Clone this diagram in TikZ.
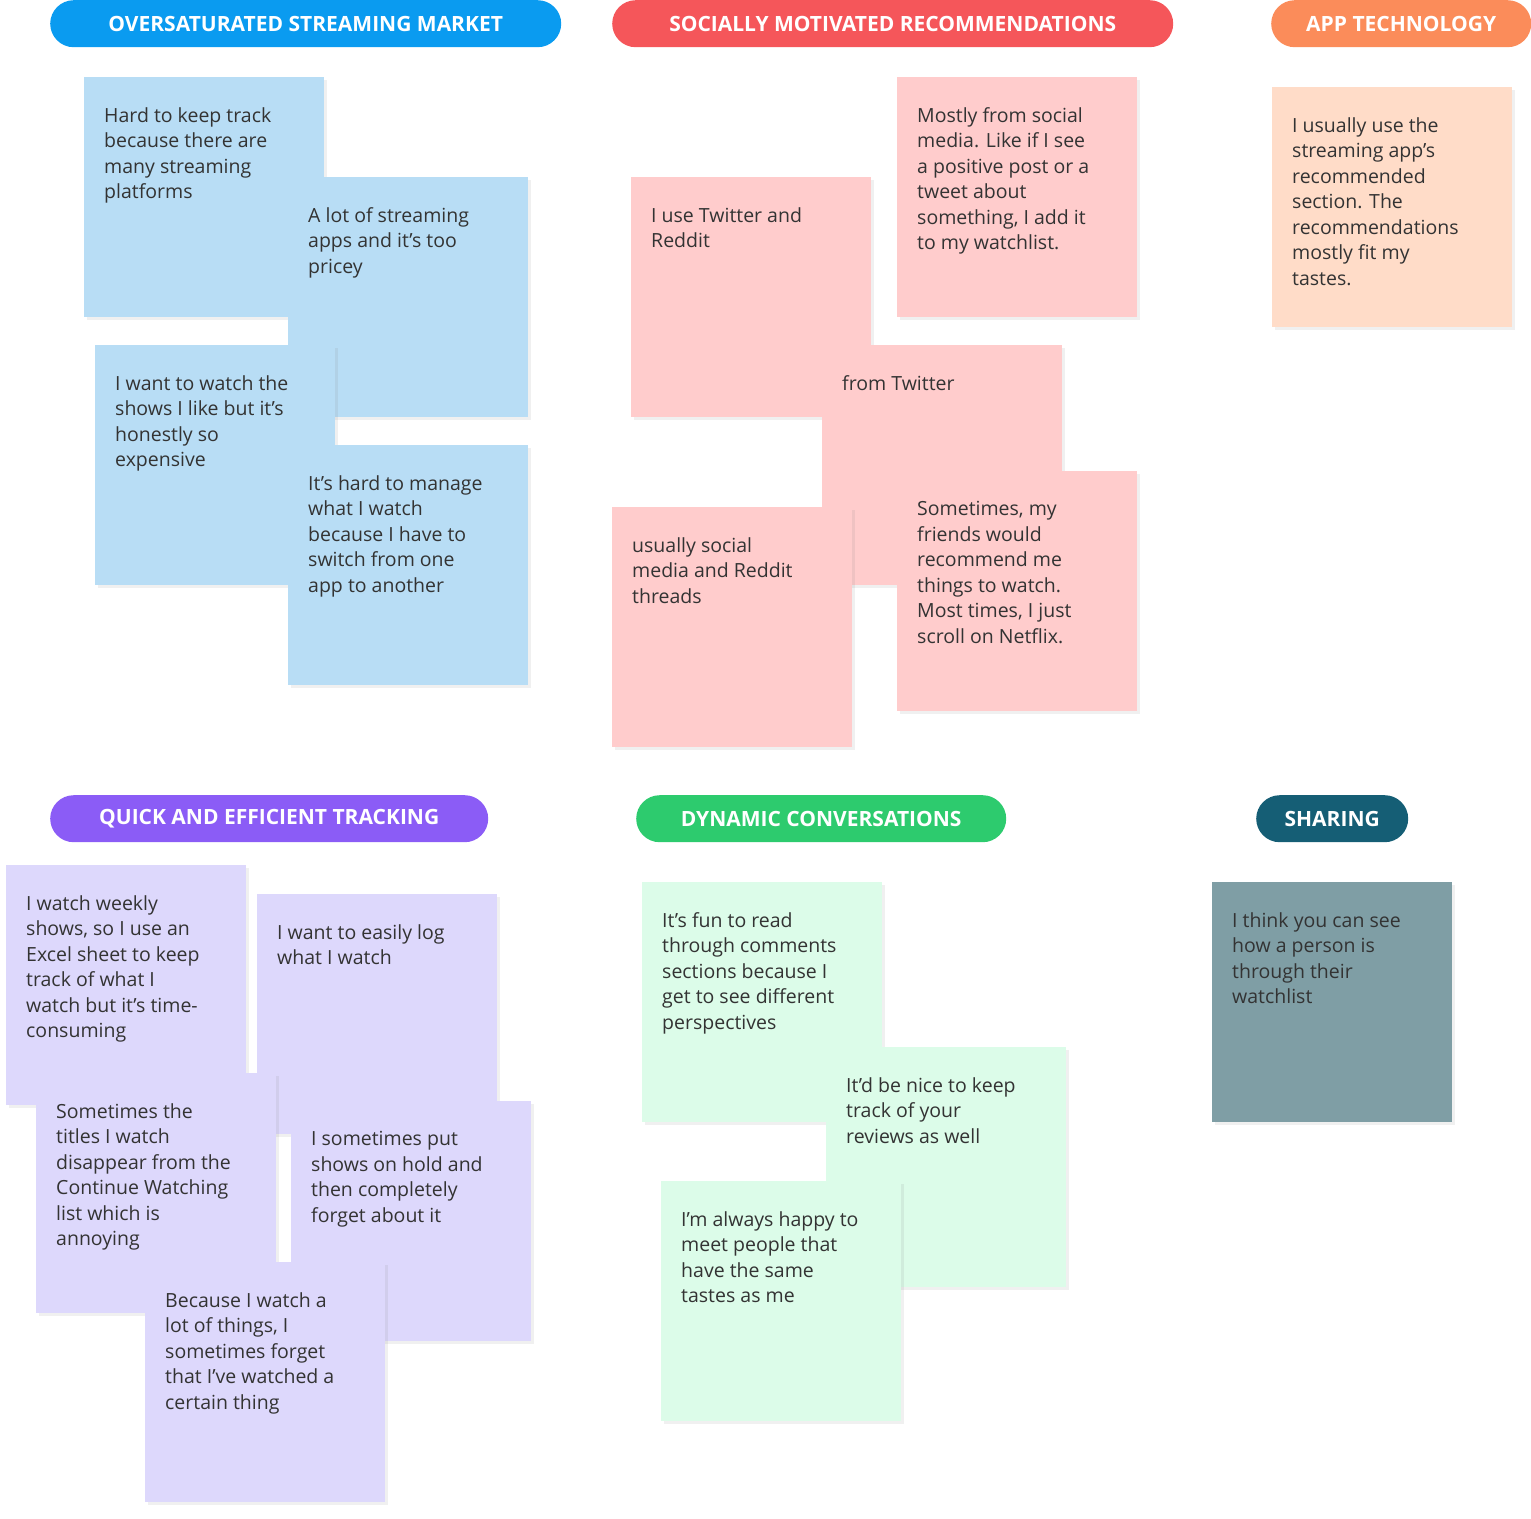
\documentclass[tikz,border=0pt]{standalone}
\usepackage{fontspec}
\setmainfont{Open Sans}
\usetikzlibrary{shadows}
\definecolor{tx}{HTML}{333333}
\definecolor{cblue}{HTML}{B8DDF5}
\definecolor{cpink}{HTML}{FFCCCC}
\definecolor{cpeach}{HTML}{FFDCC8}
\definecolor{cpurp}{HTML}{DDD8FC}
\definecolor{cgreen}{HTML}{DCFCE9}
\definecolor{cteal}{HTML}{7F9EA5}
\definecolor{hblue}{HTML}{0A9BF0}
\definecolor{hred}{HTML}{F5565A}
\definecolor{horange}{HTML}{FB8C5A}
\definecolor{hpurp}{HTML}{8B5CF6}
\definecolor{hgreen}{HTML}{2DCB6E}
\definecolor{hteal}{HTML}{155E75}
\tikzset{
 notebox/.style={draw=none,minimum width=240pt,minimum height=240pt,anchor=north west,inner sep=0pt,
   drop shadow={opacity=0.12,shadow xshift=3pt,shadow yshift=-3pt}},
 notetext/.style={anchor=north west,inner sep=0pt,align=left,text=tx,font=\fontsize{19.5}{25.5}\selectfont},
 pill/.style={rounded corners=23.5pt,minimum height=47pt,anchor=north west,inner sep=0pt,text=white,
   font=\fontsize{21}{24}\selectfont\bfseries}
}
\newcommand{\stick}[5]{%
 \node[notebox,fill=#4] (#1) at (#2,#3) {};
 \node[notetext] (#1t) at ([shift={(20pt,-30pt)}]#1.north west) {#5};}
\begin{document}
\begin{tikzpicture}[x=1pt,y=-1pt]
\useasboundingbox (0,0) rectangle (1531,1518);
% headers
\node[pill,fill=hblue,minimum width=511pt] (h1) at (50,0) {OVERSATURATED STREAMING MARKET};
\node[pill,fill=hred,minimum width=561pt] (h2) at (612,0) {SOCIALLY MOTIVATED RECOMMENDATIONS};
\node[pill,fill=horange,minimum width=260pt] (h3) at (1271,0) {APP TECHNOLOGY};
\node[pill,fill=hpurp,minimum width=438pt] (h4) at (50,795) {QUICK AND EFFICIENT TRACKING};
\node[pill,fill=hgreen,minimum width=370pt] (h5) at (636,795) {DYNAMIC CONVERSATIONS};
\node[pill,fill=hteal,minimum width=152pt] (h6) at (1256,795) {SHARING};
% blue
\stick{b1}{84}{77}{cblue}{Hard to keep track\\because there are\\many streaming\\platforms}
\stick{b2}{288}{177}{cblue}{A lot of streaming\\apps and it’s too\\pricey}
\stick{b3}{95}{345}{cblue}{I want to watch the\\shows I like but it’s\\honestly so\\expensive}
\stick{b4}{288}{445}{cblue}{It’s hard to manage\\what I watch\\because I have to\\switch from one\\app to another}
% pink
\stick{p1}{631}{177}{cpink}{I use Twitter and\\Reddit}
\stick{p2}{897}{77}{cpink}{Mostly from social\\media. Like if I see\\a positive post or a\\tweet about\\something, I add it\\to my watchlist.}
\stick{p3}{822}{345}{cpink}{from Twitter}
\stick{p4}{897}{471}{cpink}{Sometimes, my\\friends would\\recommend me\\things to watch.\\Most times, I just\\scroll on Netflix.}
\stick{p5}{612}{507}{cpink}{usually social\\media and Reddit\\threads}
% peach
\stick{o1}{1272}{87}{cpeach}{I usually use the\\streaming app’s\\recommended\\section. The\\recommendations\\mostly fit my\\tastes.}
% purple
\stick{q1}{6}{865}{cpurp}{I watch weekly\\shows, so I use an\\Excel sheet to keep\\track of what I\\watch but it’s time-\\consuming}
\stick{q2}{257}{894}{cpurp}{I want to easily log\\what I watch}
\stick{q3}{36}{1073}{cpurp}{Sometimes the\\titles I watch\\disappear from the\\Continue Watching\\list which is\\annoying}
\stick{q4}{291}{1101}{cpurp}{I sometimes put\\shows on hold and\\then completely\\forget about it}
\stick{q5}{145}{1262}{cpurp}{Because I watch a\\lot of things, I\\sometimes forget\\that I’ve watched a\\certain thing}
% green
\stick{g1}{642}{882}{cgreen}{It’s fun to read\\through comments\\sections because I\\get to see different\\perspectives}
\stick{g2}{826}{1047}{cgreen}{It’d be nice to keep\\track of your\\reviews as well}
\stick{g3}{661}{1181}{cgreen}{I’m always happy to\\meet people that\\have the same\\tastes as me}
% teal
\stick{t1}{1212}{882}{cteal}{I think you can see\\how a person is\\through their\\watchlist}
\end{tikzpicture}
\end{document}
